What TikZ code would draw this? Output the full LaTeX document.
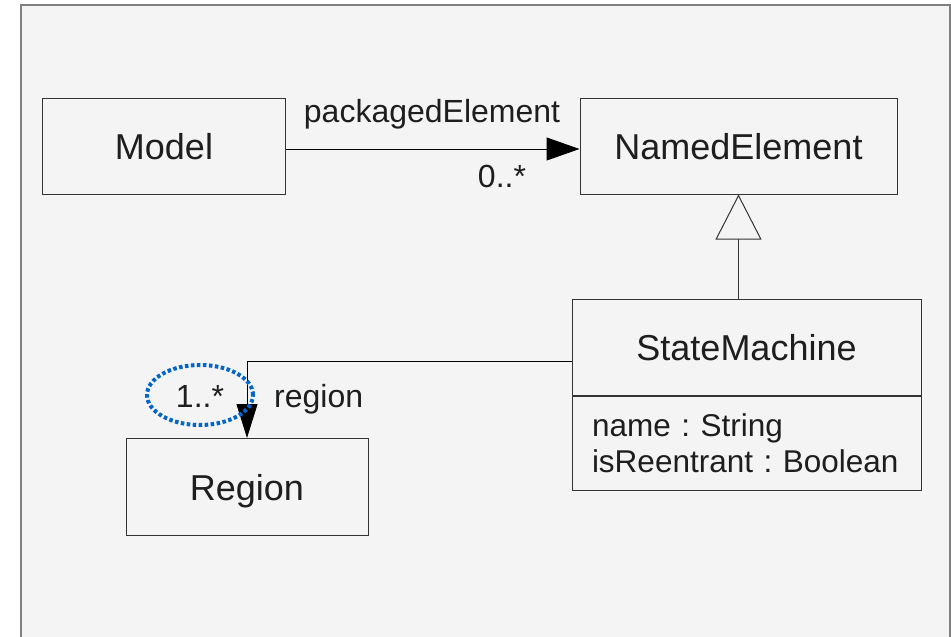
\documentclass[tikz,border=0pt]{standalone}
\usepackage{fontspec}
\setmainfont{Liberation Sans}
\usepackage{xcolor}
\usetikzlibrary{arrows.meta, positioning}
\definecolor{canvas}{HTML}{F4F4F4}
\definecolor{edge}{HTML}{333333}
\definecolor{ink}{HTML}{1E1E1E}
\definecolor{ringblue}{HTML}{0066CC}
\tikzset{
  classbox/.style={draw=edge, fill=canvas, line width=1pt, text=ink,
    font=\fontsize{36}{43}\selectfont, inner sep=0pt, text height=26pt, text depth=0pt},
  attrbox/.style={draw=edge, fill=canvas, line width=1pt, text=ink,
    font=\fontsize{31.5}{36}\selectfont\frenchspacing, align=left, text width=309pt,
    inner xsep=20pt, inner ysep=0pt},
  lbl/.style={text=ink, font=\fontsize{32}{35}\selectfont, inner sep=0pt},
  assoc/.style={draw=black, line width=1pt},
  gen/.style={draw=edge, line width=1pt},
  ring/.style={draw=ringblue, line width=4pt, dash pattern=on 3.5pt off 2.5pt}
}

\begin{document}
\begin{tikzpicture}[x=1pt, y=-1pt]
    \useasboundingbox (0,0) rectangle (951,637);
    \draw[draw=gray, fill=canvas, line width=1.5pt] (21,5) rectangle (950,700);

    % classes
    \node[classbox, minimum width=243pt, minimum height=96pt] (model) at (164,146) {Model};
    \node[classbox, minimum width=317pt, minimum height=96pt] (named) at (738.5,146) {NamedElement};
    \node[classbox, minimum width=349pt, minimum height=96pt] (sm) at (746.5,347) {StateMachine};
    \node[attrbox, minimum height=94pt, below=0pt of sm] (smattr) {\mbox{name : String}\\\mbox{isReentrant : Boolean}};
    \node[classbox, minimum width=242pt, minimum height=97pt] (region) at (247,487) {Region};

    % connectors
    \draw[assoc, -{Triangle[length=33pt, width=23pt]}] ([yshift=-3pt]model.east) -- ([yshift=-3pt]named.west);
    \draw[gen, -{Triangle[open, length=45pt, width=46pt, fill=canvas]}] (sm.north -| named.south) -- (named.south);
    \draw[assoc, -{Triangle[length=34pt, width=21pt]}] ([yshift=-14pt]sm.west) -| (region.north);

    % labels
    \node[lbl, anchor=base] (pkglbl) at (432,122) {packagedElement};
    \node[lbl, anchor=base] (pkgmult) at (502,187) {0..*};
    \node[lbl, anchor=base] (regmult) at (200,407) {1..*};
    \node[lbl, anchor=base west] (reglbl) at (274,407) {region};

    \draw[ring] (200,395) ellipse [x radius=53pt, y radius=30pt];
    \end{tikzpicture}
\end{document}
